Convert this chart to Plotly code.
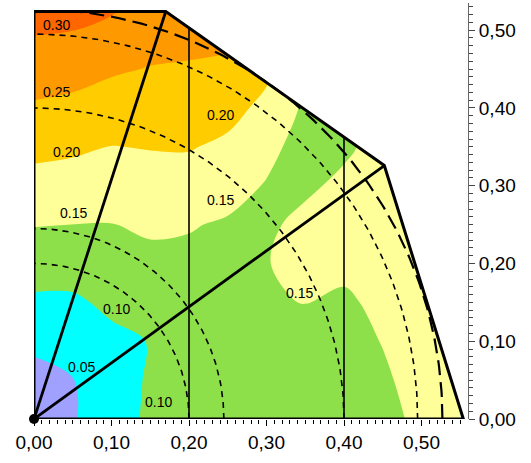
import numpy as np
import plotly.graph_objects as go

# ---------------- data ----------------
grid_x = [0.00, 0.05, 0.10, 0.15, 0.20, 0.25, 0.30, 0.35, 0.40, 0.45, 0.50, 0.55]
grid_y = [0.00, 0.05, 0.10, 0.15, 0.20, 0.25, 0.30, 0.35, 0.40, 0.45, 0.50, 0.55]

# field values, one list per x column (bottom -> top)
z_x000 = [0.002, 0.032, 0.062, 0.092, 0.122, 0.152, 0.183, 0.213, 0.244, 0.274, 0.304, 0.334]
z_x005 = [0.046, 0.0485, 0.0705, 0.093, 0.120, 0.1498, 0.179, 0.208, 0.2375, 0.2686, 0.3006, 0.333]
z_x010 = [0.079, 0.084, 0.090, 0.109, 0.129, 0.149, 0.174, 0.199, 0.227, 0.256, 0.288, 0.320]
z_x015 = [0.108, 0.104, 0.1015, 0.116, 0.137, 0.158, 0.180, 0.202, 0.225, 0.248, 0.271, 0.294]
z_x020 = [0.109, 0.118, 0.126, 0.134, 0.140, 0.153, 0.179, 0.203, 0.224, 0.245, 0.267, 0.288]
z_x025 = [0.117, 0.123, 0.129, 0.136, 0.142, 0.145, 0.167, 0.191, 0.215, 0.239, 0.263, 0.287]
z_x030 = [0.124, 0.130, 0.136, 0.148, 0.149, 0.146, 0.147, 0.163, 0.188, 0.210, 0.232, 0.254]
z_x035 = [0.131, 0.136, 0.142, 0.1505, 0.158, 0.156, 0.146, 0.132, 0.142, 0.150, 0.160, 0.170]
z_x040 = [0.138, 0.141, 0.145, 0.146, 0.156, 0.160, 0.155, 0.146, 0.145, 0.150, 0.155, 0.160]
z_x045 = [0.146, 0.148, 0.1505, 0.156, 0.162, 0.164, 0.162, 0.158, 0.155, 0.155, 0.158, 0.162]
z_x050 = [0.153, 0.155, 0.158, 0.162, 0.165, 0.167, 0.165, 0.162, 0.160, 0.160, 0.162, 0.165]
z_x055 = [0.157, 0.158, 0.160, 0.163, 0.166, 0.168, 0.167, 0.165, 0.163, 0.163, 0.165, 0.167]

levels = [0.05, 0.10, 0.15, 0.20, 0.25, 0.30]
band_colors = ["#a0a0ff", "#00ffff", "#8ee04b", "#ffff99", "#ffcc00", "#ff9900", "#ff6600"]

# outline of the region
outline_x = [0.0, 0.0, 0.170, 0.452, 0.554, 0.0]
outline_y = [0.0, 0.524, 0.524, 0.326, 0.0, 0.0]

# vertical lines
vline_x = [0.20, 0.40]
vline_top = [0.503, 0.363]

# arcs
arc_short_r = [0.20, 0.245, 0.40, 0.495]
arc_long_r = [0.527]

# contour labels
label_text = ["0.30", "0.25", "0.20", "0.20", "0.15", "0.15", "0.15", "0.10", "0.05", "0.10"]
label_x = [0.029, 0.029, 0.042, 0.240, 0.051, 0.240, 0.343, 0.107, 0.0615, 0.160]
label_y = [0.507, 0.421, 0.344, 0.391, 0.265, 0.282, 0.162, 0.141, 0.0665, 0.0223]

major_ticks = [0.0, 0.1, 0.2, 0.3, 0.4, 0.5]

# ---------------- figure ----------------
z_cols = [z_x000, z_x005, z_x010, z_x015, z_x020, z_x025,
          z_x030, z_x035, z_x040, z_x045, z_x050, z_x055]
z = np.array(z_cols).T  # rows = y, cols = x

n = len(band_colors)
colorscale = [[i / (n - 1), c] for i, c in enumerate(band_colors)]

fig = go.Figure()
fig.add_trace(go.Contour(
    x=grid_x, y=grid_y, z=z,
    contours=dict(start=levels[0], end=levels[-1], size=levels[1] - levels[0],
                  coloring="fill", showlines=False),
    colorscale=colorscale, showscale=False,
    line=dict(width=0, smoothing=1.0), hoverinfo="skip",
))

XMAX, YMAX = 0.56, 0.535
# white mask outside the region
mask_x = outline_x[1:5] + [XMAX + 0.05, XMAX + 0.05, 0.0]
mask_y = outline_y[1:5] + [0.0, YMAX + 0.05, YMAX + 0.05]
fig.add_trace(go.Scatter(x=mask_x, y=mask_y, fill="toself", fillcolor="white",
                         mode="none", hoverinfo="skip"))

ytop = max(outline_y)


def arc(r):
    t_end = np.pi / 2 if r <= ytop else np.arcsin(ytop / r)
    t = np.linspace(0, t_end, 150)
    return r * np.cos(t), r * np.sin(t)


for r in arc_short_r:
    ax_, ay_ = arc(r)
    fig.add_trace(go.Scatter(x=ax_, y=ay_, mode="lines",
                             line=dict(color="black", width=1.6, dash="6px,5px"),
                             hoverinfo="skip"))
for r in arc_long_r:
    ax_, ay_ = arc(r)
    fig.add_trace(go.Scatter(x=ax_, y=ay_, mode="lines",
                             line=dict(color="black", width=2.2, dash="15px,7px"),
                             hoverinfo="skip"))

for vx, vt in zip(vline_x, vline_top):
    fig.add_trace(go.Scatter(x=[vx, vx], y=[0, vt], mode="lines",
                             line=dict(color="black", width=1.6), hoverinfo="skip"))

# rays from origin to outline corners
for k in (2, 3):
    fig.add_trace(go.Scatter(x=[0, outline_x[k]], y=[0, outline_y[k]], mode="lines",
                             line=dict(color="black", width=2.8), hoverinfo="skip",
                             cliponaxis=False))

fig.add_trace(go.Scatter(x=outline_x, y=outline_y, mode="lines",
                         line=dict(color="black", width=3), hoverinfo="skip",
                         cliponaxis=False))
fig.add_trace(go.Scatter(x=[0], y=[0], mode="markers",
                         marker=dict(color="black", size=10), hoverinfo="skip",
                         cliponaxis=False))

for t, lx, ly in zip(label_text, label_x, label_y):
    fig.add_annotation(x=lx, y=ly, text=t, showarrow=False,
                       font=dict(size=14, color="black",
                                 family="Liberation Sans, Arial, sans-serif"))

minor_x = [round(v, 2) for v in np.arange(0.0, 0.5501, 0.01)]
minor_y = [round(v, 2) for v in np.arange(0.0, 0.5301, 0.01)]
tickfont = dict(size=19, color="black", family="Liberation Sans, Arial, sans-serif")

fig.update_layout(
    width=531, height=463, autosize=False,
    margin=dict(l=34, r=63, t=3, b=44),
    paper_bgcolor="white", plot_bgcolor="white",
    showlegend=False, separators=",.",
    xaxis=dict(range=[0, XMAX], showgrid=False, zeroline=False, showline=False,
               tickmode="array", tickvals=major_ticks, tickformat=".2f",
               ticks="outside", ticklen=6, tickwidth=1, tickcolor="black",
               tickfont=tickfont,
               minor=dict(tickmode="array", tickvals=minor_x, ticks="outside",
                          ticklen=4, tickwidth=1, tickcolor="black")),
    yaxis=dict(range=[0, YMAX], side="right", showgrid=False, zeroline=False,
               showline=True, linecolor="#666666", linewidth=1,
               tickmode="array", tickvals=major_ticks, tickformat=".2f",
               ticks="outside", ticklen=6, tickwidth=1, tickcolor="#444444",
               tickfont=tickfont,
               minor=dict(tickmode="array", tickvals=minor_y, ticks="outside",
                          ticklen=4, tickwidth=1, tickcolor="#444444")),
)

fig.write_html("out.html")
